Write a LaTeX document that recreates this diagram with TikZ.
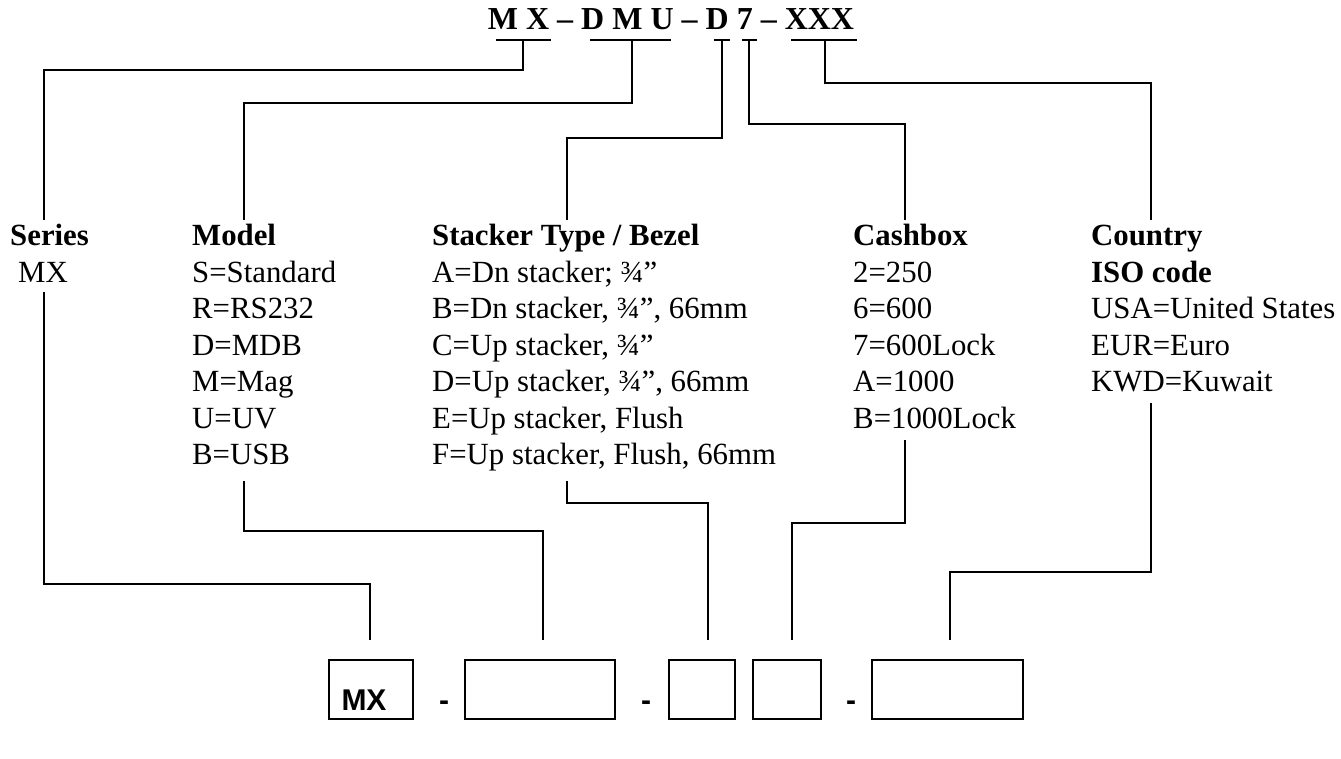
\documentclass[tikz,border=0pt]{standalone}
\usepackage{fontspec}
\setmainfont{Liberation Serif}
\newfontfamily\arialfam{Liberation Sans}
\begin{document}
\begin{tikzpicture}[x=1pt,y=-1pt,
  ln/.style={line width=1.8pt},
  body/.style={anchor=base west, inner sep=0pt, font=\fontsize{30.8}{36.5}\selectfont},
  head/.style={anchor=base west, inner sep=0pt, font=\fontsize{30.8}{36.5}\selectfont\bfseries},
  ttl/.style={anchor=base, inner sep=0pt, font=\fontsize{32}{38}\selectfont\bfseries},
  slot/.style={draw, line width=1.8pt, inner sep=0pt, anchor=north west, minimum height=59pt},
  boxtxt/.style={anchor=base, inner sep=0pt, font=\arialfam\fontsize{30}{36}\selectfont\bfseries}]
\useasboundingbox (0,0) rectangle (1341,758);
% title
\node[ttl] (title) at (671,29) {M X – D M U – D 7 – XXX};
% underlines
\coordinate (a1) at (496,40); \coordinate (a2) at (551,40);
\coordinate (a3) at (590,40); \coordinate (a4) at (671,40);
\coordinate (a5) at (714,40); \coordinate (a6) at (730,40);
\coordinate (a7) at (742,40); \coordinate (a8) at (757,40);
\coordinate (a9) at (791,40); \coordinate (a10) at (857,40);
\draw[ln] (a1) -- (a2); \draw[ln] (a3) -- (a4); \draw[ln] (a5) -- (a6);
\draw[ln] (a7) -- (a8); \draw[ln] (a9) -- (a10);
\coordinate (uMX) at (523,40);
\coordinate (uDMU) at (632,40);
\coordinate (uD) at (722,40);
\coordinate (u7) at (749,40);
\coordinate (uXXX) at (825,40);
% column tops
\coordinate (sTop) at (44,220);
\coordinate (mTop) at (244,220);
\coordinate (kTop) at (567,220);
\coordinate (cTop) at (905,220);
\coordinate (nTop) at (1151,220);
\draw[ln] (uMX) -- ++(0,30) -| (sTop);
\draw[ln] (uDMU) -- ++(0,63) -| (mTop);
\draw[ln] (uD) -- ++(0,98) -| (kTop);
\draw[ln] (u7) -- ++(0,84) -| (cTop);
\draw[ln] (uXXX) -- ++(0,43) -| (nTop);
% columns
\node[head] (s0) at (10,245.5) {Series};
\node[body] (s1) at (18,282) {MX};
\node[head] (m0) at (192,245.5) {Model};
\node[body] (m1) at (192,282) {S=Standard};
\node[body] (m2) at (192,318.5) {R=RS232};
\node[body] (m3) at (192,355) {D=MDB};
\node[body] (m4) at (192,391.5) {M=Mag};
\node[body] (m5) at (192,428) {U=UV};
\node[body] (m6) at (192,464.5) {B=USB};
\node[head] (k0) at (432,245.5) {Stacker Type / Bezel};
\node[body] (k1) at (432,282) {A=Dn stacker; ¾”};
\node[body] (k2) at (432,318.5) {B=Dn stacker, ¾”, 66mm};
\node[body] (k3) at (432,355) {C=Up stacker, ¾”};
\node[body] (k4) at (432,391.5) {D=Up stacker, ¾”, 66mm};
\node[body] (k5) at (432,428) {E=Up stacker, Flush};
\node[body] (k6) at (432,464.5) {F=Up stacker, Flush, 66mm};
\node[head] (c0) at (853,245.5) {Cashbox};
\node[body] (c1) at (853,282) {2=250};
\node[body] (c2) at (853,318.5) {6=600};
\node[body] (c3) at (853,355) {7=600Lock};
\node[body] (c4) at (853,391.5) {A=1000};
\node[body] (c5) at (853,428) {B=1000Lock};
\node[head] (n0) at (1091,245.5) {Country};
\node[head] (n1) at (1091,282) {ISO code};
\node[body] (n2) at (1091,318.5) {USA=United States};
\node[body] (n3) at (1091,355) {EUR=Euro};
\node[body] (n4) at (1091,391.5) {KWD=Kuwait};
% boxes
\node[slot, minimum width=84pt] (b1) at (328,659) {};
\node[slot, minimum width=150pt] (b2) at (464,659) {};
\node[slot, minimum width=66pt] (b3) at (668,659) {};
\node[slot, minimum width=68pt] (b4) at (752,659) {};
\node[slot, minimum width=151pt] (b5) at (871,659) {};
\node[boxtxt] (mx) at (364,710) {MX};
\node[boxtxt] (d1) at (444,710) {-};
\node[boxtxt] (d2) at (646,710) {-};
\node[boxtxt] (d3) at (851,710) {-};
% bottom connectors
\coordinate (sBot) at (44,292);
\coordinate (mBot) at (244,481);
\coordinate (kBot) at (567,481);
\coordinate (cBot) at (905,440);
\coordinate (nBot) at (1151,403);
\coordinate (e1) at (370,640);
\coordinate (e2) at (543,640);
\coordinate (e3) at (708,640);
\coordinate (e4) at (792,640);
\coordinate (e5) at (950,640);
\draw[ln] (sBot) -- ++(0,292) -| (e1);
\draw[ln] (mBot) -- ++(0,50) -| (e2);
\draw[ln] (kBot) -- ++(0,22) -| (e3);
\draw[ln] (cBot) -- ++(0,83) -| (e4);
\draw[ln] (nBot) -- ++(0,169) -| (e5);
\end{tikzpicture}
\end{document}
